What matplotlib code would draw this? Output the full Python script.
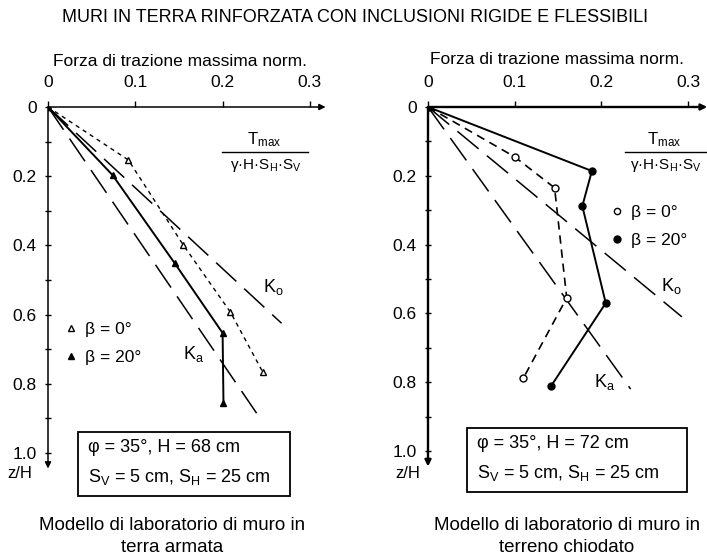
import matplotlib
matplotlib.use("Agg")
import matplotlib.pyplot as plt
from matplotlib.lines import Line2D
from matplotlib.patches import Rectangle

W, H = 707, 557

# ---- Terra armata (laboratory model, left) ----
ta_b0_t = [0.0, 0.092, 0.155, 0.209, 0.246]
ta_b0_z = [0.0, 0.153, 0.399, 0.593, 0.766]
ta_b20_t = [0.0, 0.074, 0.145, 0.200, 0.201]
ta_b20_z = [0.0, 0.197, 0.451, 0.653, 0.855]
ta_ka, ta_ka_zmax = 0.27, 0.885
ta_k0, ta_k0_zmax = 0.428, 0.625

# ---- Terreno chiodato (laboratory model, right) ----
tc_b0_t = [0.0, 0.100, 0.146, 0.160, 0.110]
tc_b0_z = [0.0, 0.145, 0.235, 0.555, 0.788]
tc_b20_t = [0.0, 0.189, 0.178, 0.205, 0.142]
tc_b20_z = [0.0, 0.186, 0.288, 0.570, 0.811]
tc_ka, tc_ka_zmax = 0.285, 0.82
tc_k0, tc_k0_zmax = 0.48, 0.61

x_ticks = [0.0, 0.1, 0.2, 0.3]
x_ticklabels = ["0", "0.1", "0.2", "0.3"]
z_ticks = [0.0, 0.2, 0.4, 0.6, 0.8, 1.0]
z_ticklabels = ["0", "0.2", "0.4", "0.6", "0.8", "1.0"]
z_minor = [0.1, 0.3, 0.5, 0.7, 0.9]

title = "MURI IN TERRA RINFORZATA CON INCLUSIONI RIGIDE E FLESSIBILI"
x_label = "Forza di trazione massima norm."
captions = [["Modello di laboratorio di muro in", "terra armata"],
            ["Modello di laboratorio di muro in", "terreno chiodato"]]
box_lines = [["φ = 35°, H = 68 cm", "S$_\\mathrm{V}$ = 5 cm, S$_\\mathrm{H}$ = 25 cm"],
             ["φ = 35°, H = 72 cm", "S$_\\mathrm{V}$ = 5 cm, S$_\\mathrm{H}$ = 25 cm"]]

plt.rcParams["font.family"] = ["Liberation Sans", "DejaVu Sans"]
plt.rcParams["mathtext.fontset"] = "custom"
plt.rcParams["mathtext.rm"] = "Liberation Sans"
plt.rcParams["mathtext.it"] = "Liberation Sans:italic"

FS_TICK = 12.5
FS_TEXT = 12.5

fig = plt.figure(figsize=(W / 100, H / 100), dpi=100)


def fx(px):
    return px / W


def fy(py):
    return 1 - py / H


def make_axes(x0, sx, y0, sy, xmax=0.33, zmax=1.06):
    """Axes whose data origin sits at pixel (x0, y0) with sx, sy px per unit."""
    left = fx(x0)
    width = xmax * sx / W
    top = fy(y0)
    height = zmax * sy / H
    ax = fig.add_axes([left, top - height, width, height])
    ax.set_xlim(0, xmax)
    ax.set_ylim(zmax, 0)
    for s in ax.spines.values():
        s.set_visible(False)
    ax.patch.set_visible(False)
    return ax


def dress(ax, lw, xarrow_end):
    ax.annotate("", xy=(xarrow_end, 0), xytext=(0, 0), annotation_clip=False,
                arrowprops=dict(arrowstyle="-|>", lw=lw, color="k",
                                mutation_scale=9, shrinkA=0, shrinkB=0))
    ax.annotate("", xy=(0, 1.045), xytext=(0, 0), annotation_clip=False,
                arrowprops=dict(arrowstyle="-|>", lw=lw, color="k",
                                mutation_scale=9, shrinkA=0, shrinkB=0))
    ax.xaxis.set_ticks_position("top")
    ax.set_xticks(x_ticks)
    ax.set_xticklabels(x_ticklabels, fontsize=FS_TICK)
    ax.tick_params(axis="x", direction="out", length=4, width=1, pad=8)
    ax.set_yticks(z_ticks)
    ax.set_yticklabels(z_ticklabels, fontsize=FS_TICK)
    ax.set_yticks(z_minor, minor=True)
    ax.tick_params(axis="y", which="both", direction="inout", length=4,
                   width=1, pad=6)


def k_line(ax, k, zmax, dashes):
    ax.plot([0, k * zmax], [0, zmax], color="k", lw=1.1, dashes=dashes,
            solid_capstyle="butt")


# ---------------- left panel ----------------
axL = make_axes(48, 873, 107, 346)
dress(axL, 1.1, 0.318)
k_line(axL, ta_ka, ta_ka_zmax, (18, 7))
k_line(axL, ta_k0, ta_k0_zmax, (18, 7))
axL.plot(ta_b0_t, ta_b0_z, color="k", lw=1.0, dashes=(3, 3),
         marker="^", ms=4.5, mfc="white", mec="k", mew=1)
axL.plot(ta_b20_t, ta_b20_z, color="k", lw=1.4,
         marker="^", ms=5, mfc="k", mec="k")
axL.text(0.258, 0.52, "K$_\\mathrm{o}$", fontsize=13, ha="center", va="center")
axL.text(0.167, 0.715, "K$_\\mathrm{a}$", fontsize=13, ha="center", va="center")

# ---------------- right panel ----------------
axR = make_axes(428, 867, 107, 344)
dress(axR, 1.7, 0.322)
k_line(axR, tc_ka, tc_ka_zmax, (18, 7))
k_line(axR, tc_k0, tc_k0_zmax, (18, 7))
axR.plot(tc_b0_t, tc_b0_z, color="k", lw=1.2, dashes=(5, 3.5),
         marker="o", ms=5, mfc="white", mec="k", mew=1)
axR.plot(tc_b20_t, tc_b20_z, color="k", lw=1.4,
         marker="o", ms=5, mfc="k", mec="k")
axR.text(0.281, 0.52, "K$_\\mathrm{o}$", fontsize=13, ha="center", va="center")
axR.text(0.204, 0.80, "K$_\\mathrm{a}$", fontsize=13, ha="center", va="center")

# legends
for ax, mk, (lx, ly) in [(axL, "^", (66, 322)), (axR, "o", (612, 205))]:
    hs = [Line2D([], [], ls="none", marker=mk, ms=4.5, mfc="white", mec="k"),
          Line2D([], [], ls="none", marker=mk, ms=5, mfc="k", mec="k")]
    ax.legend(hs, ["β = 0°", "β = 20°"], loc="upper left",
              bbox_to_anchor=(fx(lx), fy(ly)), bbox_transform=fig.transFigure,
              frameon=False, fontsize=FS_TEXT, handlelength=0.6,
              handletextpad=0.5, labelspacing=0.75, borderpad=0, borderaxespad=0)

# normalisation fraction labels
for cx, x0, x1 in [(264, 222, 308), (664, 625, 707)]:
    fig.text(fx(cx), fy(140), "T$_\\mathrm{max}$", fontsize=12,
             ha="center", va="center")
    fig.add_artist(Line2D([fx(x0), fx(x1)], [fy(152), fy(152)], color="k", lw=1))
    fig.text(fx(cx + 2), fy(166), "γ·H·S$_\\mathrm{H}$·S$_\\mathrm{V}$",
             fontsize=11, ha="center", va="center")

# axis titles
fig.text(fx(180), fy(62), x_label, fontsize=FS_TEXT, ha="center", va="center")
fig.text(fx(557), fy(60), x_label, fontsize=FS_TEXT, ha="center", va="center")
fig.text(fx(20), fy(474), "z/H", fontsize=12, ha="center", va="center")
fig.text(fx(408), fy(474), "z/H", fontsize=12, ha="center", va="center")

# parameter boxes
for (bx0, by0, bx1, by1), lines in zip([(78, 432, 290, 496), (467, 428, 687, 492)],
                                       box_lines):
    fig.add_artist(Rectangle((fx(bx0), fy(by1)), (bx1 - bx0) / W,
                             (by1 - by0) / H, fill=False, lw=1.3, ec="k"))
    fig.text(fx(bx0 + 10), fy(by0 + 16), lines[0], fontsize=13,
             ha="left", va="center")
    fig.text(fx(bx0 + 10), fy(by0 + 45), lines[1], fontsize=13,
             ha="left", va="center")

# captions and title
for cx, lines in zip([172, 567], captions):
    fig.text(fx(cx), fy(525), lines[0], fontsize=13.5, ha="center",
             va="center")
    fig.text(fx(cx), fy(547), lines[1], fontsize=13.5, ha="center",
             va="center")
fig.text(fx(355), fy(18), title, fontsize=13, ha="center", va="center")

fig.savefig("out.png", dpi=100)
